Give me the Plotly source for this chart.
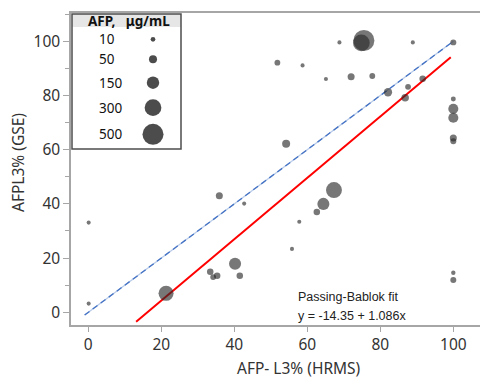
import numpy as np
import plotly.graph_objects as go

# ---- data ----
hrms = [51.8, 58.7, 68.8, 75.5, 74.8, 88.9, 100.0, 65.1, 72.0, 77.8, 91.6, 82.1, 87.6, 86.8,
        100.0, 100.0, 100.0, 100.0, 100.0, 54.2, 35.9, 67.3, 0.1, 42.7, 64.4, 62.6, 57.8,
        55.8, 40.2, 33.4, 34.2, 35.3, 41.5, 21.3, 0.1, 100.0, 100.0]
gse = [92.1, 91.1, 99.6, 100.3, 99.4, 99.6, 99.6, 86.1, 86.9, 87.2, 86.2, 81.2, 83.2, 79.2,
       78.7, 75.1, 71.8, 64.3, 63.1, 62.2, 43.0, 45.1, 33.1, 40.1, 40.0, 37.0, 33.4,
       23.4, 17.9, 15.0, 13.0, 13.5, 13.5, 7.0, 3.2, 14.6, 11.9]
afp = [20, 6, 6, 500, 300, 6, 22, 6, 35, 20, 28, 55, 20, 42,
       12, 90, 90, 35, 22, 50, 35, 270, 6, 6, 140, 28, 6,
       6, 140, 28, 20, 28, 28, 235, 6, 8, 22]

legend_afp = [10, 50, 150, 300, 500]
legend_labels = ["10", "50", "150", "300", "500"]

fit_x = [13.1, 99.3]
fit_y = [-3.5, 94.1]
identity = [-1, 100]

x_ticks = [0, 20, 40, 60, 80, 100]
y_ticks = [0, 20, 40, 60, 80, 100]

fit_label = "Passing-Bablok fit"
fit_eq = "y = -14.35 + 1.086x"

# ---- layout helpers (reference pixel coords; page body has an 8px margin) ----
OFF = 8
W, H = 488 - OFF, 385 - OFF
PL, PT, PB = 71, 13, 325          # plot area in reference pixels
L, T = PL - OFF, PT - OFF
PW, PH = 488 - PL, PB - PT
B = H - T - PH
R = 0


def pxx(p):
    return (p - PL) / PW


def pxy(p):
    return (PB - p) / PH


def diam(v):
    return 2 + 0.85 * np.sqrt(np.asarray(v, dtype=float))


fig = go.Figure()

# identity line (light under-line + dark dashes)
fig.add_trace(go.Scatter(x=identity, y=identity, mode="lines",
                         line=dict(color="#b8cbe9", width=1.3),
                         hoverinfo="skip", showlegend=False))
fig.add_trace(go.Scatter(x=identity, y=identity, mode="lines",
                         line=dict(color="#4472c4", width=1.3, dash="6px,4px"),
                         hoverinfo="skip", showlegend=False))
# fit line
fig.add_trace(go.Scatter(x=fit_x, y=fit_y, mode="lines",
                         line=dict(color="#ff0000", width=2),
                         hoverinfo="skip", showlegend=False))
# data points
fig.add_trace(go.Scatter(x=hrms, y=gse, mode="markers",
                         marker=dict(size=diam(afp), sizemode="diameter",
                                     color="rgba(40,40,40,0.9)", line=dict(width=0)),
                         showlegend=False, cliponaxis=False))

# legend markers on a pixel overlay axis
leg_x = [153] * 5
leg_y = [39.3, 59.3, 82.7, 107.7, 134.3]
fig.add_trace(go.Scatter(x=leg_x, y=leg_y, mode="markers", xaxis="x2", yaxis="y2",
                         marker=dict(size=diam(legend_afp), color="#000000", line=dict(width=0)),
                         showlegend=False, hoverinfo="skip"))

axis_line = "#a6a6a6"
tick_font = dict(family="Noto Sans, Open Sans, sans-serif", size=15.5, color="#333333")

fig.update_layout(
    width=W, height=H,
    margin=dict(l=L, r=R, t=T, b=B, pad=0, autoexpand=False),
    paper_bgcolor="white", plot_bgcolor="white",
    xaxis=dict(range=[-4.74, 109.5], tickvals=x_ticks, showgrid=False, zeroline=False,
               showline=True, linecolor=axis_line, linewidth=1.5, mirror=True,
               ticks="outside", ticklen=5, tickcolor=axis_line, tickwidth=1,
               tickfont=tick_font),
    yaxis=dict(range=[-4.69, 110.44], tickvals=y_ticks, showgrid=False, zeroline=False,
               showline=True, linecolor=axis_line, linewidth=1.5,
               ticks="outside", ticklen=6, tickcolor=axis_line, tickwidth=1,
               minor=dict(dtick=10, ticks="outside", ticklen=4, tickcolor=axis_line, showgrid=False),
               tickfont=tick_font),
    xaxis2=dict(range=[PL, 488], overlaying="x", visible=False, domain=[0, 1]),
    yaxis2=dict(range=[PB, PT], overlaying="y", visible=False, domain=[0, 1]),
    showlegend=False,
)

# legend box
fig.add_shape(type="rect", xref="paper", yref="paper",
              x0=pxx(72), x1=pxx(181), y0=pxy(149), y1=pxy(14),
              fillcolor="white", line=dict(width=0), layer="below")
fig.add_shape(type="rect", xref="paper", yref="paper",
              x0=pxx(72), x1=pxx(181), y0=pxy(27), y1=pxy(14),
              fillcolor="#e6e6e6", line=dict(width=0), layer="below")
fig.add_shape(type="rect", xref="paper", yref="paper",
              x0=pxx(72), x1=pxx(181), y0=pxy(149), y1=pxy(14),
              fillcolor="rgba(0,0,0,0)", line=dict(color="#4d4d4d", width=1.5), layer="above")

fig.add_annotation(xref="paper", yref="paper", x=pxx(128.5), y=pxy(20.5),
                   text="<b>AFP,&nbsp;&nbsp;&nbsp;μg/mL</b>", showarrow=False,
                   xanchor="center", yanchor="middle",
                   font=dict(family="Noto Sans, Open Sans, sans-serif", size=13.5, color="#111111"))
for lab, yy in zip(legend_labels, leg_y):
    fig.add_annotation(xref="paper", yref="paper", x=pxx(96.5), y=pxy(yy),
                       text=lab, showarrow=False, xanchor="left", yanchor="middle",
                       font=dict(family="Noto Sans, Open Sans, sans-serif", size=13.5, color="#111111"))

# fit text
fig.add_annotation(xref="paper", yref="paper", x=pxx(296), y=pxy(297),
                   text=fit_label, showarrow=False, xanchor="left", yanchor="middle",
                   font=dict(family="Liberation Sans, Arial, sans-serif", size=12.5, color="#222222"))
fig.add_annotation(xref="paper", yref="paper", x=pxx(296), y=pxy(316),
                   text=fit_eq, showarrow=False, xanchor="left", yanchor="middle",
                   font=dict(family="Liberation Sans, Arial, sans-serif", size=12.5, color="#222222"))

# axis titles
title_font = dict(family="Noto Sans, Open Sans, sans-serif", size=15.5, color="#333333")
fig.add_annotation(xref="paper", yref="paper", x=pxx(299), y=pxy(368),
                   text="AFP- L3% (HRMS)", showarrow=False, xanchor="center", yanchor="middle",
                   font=title_font)
fig.add_annotation(xref="paper", yref="paper", x=pxx(18), y=pxy(163),
                   text="AFPL3% (GSE)", showarrow=False, xanchor="center", yanchor="middle",
                   textangle=-90, font=title_font)

fig.write_html("out.html")
